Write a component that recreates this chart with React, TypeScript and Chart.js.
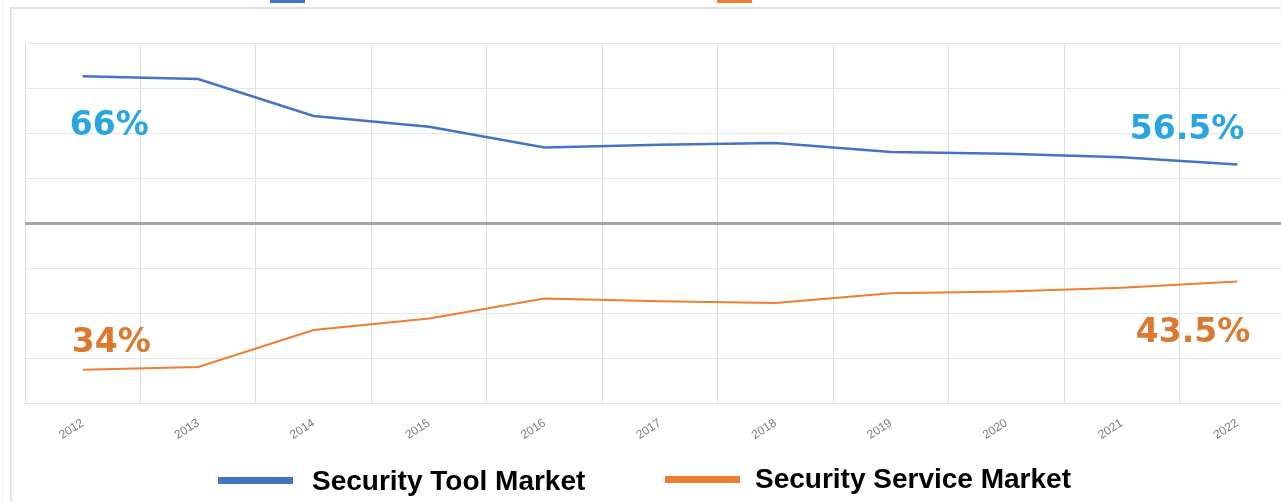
import React, { useEffect, useRef } from 'react';
import { Chart, registerables } from 'chart.js';

Chart.register(...registerables);

const years = ['2012', '2013', '2014', '2015', '2016', '2017', '2018', '2019', '2020', '2021', '2022'];
const toolMarket = [66.3, 66.0, 61.9, 60.7, 58.4, 58.7, 58.9, 57.9, 57.7, 57.3, 56.5];
const serviceMarket = [33.7, 34.0, 38.1, 39.4, 41.6, 41.3, 41.1, 42.2, 42.4, 42.8, 43.5];
const seriesNames = ['Security Tool Market', 'Security Service Market'];
const startLabels = ['66%', '34%'];
const endLabels = ['56.5%', '43.5%'];
const yMin = 30;
const yMax = 70;
const yStep = 5;
const midValue = 50;

const BLUE = '#4472c4';
const ORANGE = '#ed7d31';
const LABEL_BLUE = '#29a6df';
const LABEL_ORANGE = '#db7a2e';

const overlay = {
  id: 'overlay',
  beforeDraw(chart: any) {
    const ctx = chart.ctx;
    ctx.save();
    ctx.fillStyle = '#ffffff';
    ctx.fillRect(0, 0, chart.width, chart.height);
    // frame
    ctx.fillStyle = '#e0e0e0';
    ctx.fillRect(10, 7, chart.width, 2);
    ctx.fillRect(10, 8, 1.5, chart.height);
    ctx.fillStyle = '#f0f0f0';
    ctx.fillRect(2, 0, 1, chart.height);
    // cut-off top legend swatches
    ctx.fillStyle = BLUE;
    ctx.fillRect(270, 0, 35, 3);
    ctx.fillStyle = ORANGE;
    ctx.fillRect(717, 0, 35, 3);
    ctx.restore();
  },
  afterDraw(chart: any) {
    const ctx = chart.ctx;
    const xs = chart.scales.x;
    const ys = chart.scales.y;
    const last = years.length - 1;
    ctx.save();
    ctx.font = 'bold 33px "DejaVu Sans"';
    ctx.textBaseline = 'alphabetic';
    // start labels
    ctx.textAlign = 'left';
    ctx.fillStyle = LABEL_BLUE;
    ctx.fillText(startLabels[0], xs.getPixelForValue(0) - 13, ys.getPixelForValue(toolMarket[0]) + 59);
    ctx.fillStyle = LABEL_ORANGE;
    ctx.fillText(startLabels[1], xs.getPixelForValue(0) - 11, ys.getPixelForValue(serviceMarket[0]) - 18);
    // end labels
    ctx.textAlign = 'right';
    ctx.fillStyle = LABEL_BLUE;
    ctx.fillText(endLabels[0], xs.getPixelForValue(last) + 7, ys.getPixelForValue(toolMarket[last]) - 26);
    ctx.fillStyle = LABEL_ORANGE;
    ctx.fillText(endLabels[1], xs.getPixelForValue(last) + 13, ys.getPixelForValue(serviceMarket[last]) + 60);

    // bottom legend
    ctx.textAlign = 'left';
    ctx.font = 'bold 28px "Liberation Sans", Arial, sans-serif';
    ctx.fillStyle = BLUE;
    ctx.fillRect(218, 477, 75, 7);
    ctx.fillStyle = '#000000';
    ctx.fillText(seriesNames[0], 312, 490);
    ctx.fillStyle = ORANGE;
    ctx.fillRect(665, 476, 75, 7);
    ctx.fillStyle = '#000000';
    ctx.fillText(seriesNames[1], 755, 488);
    ctx.restore();
  },
};

export default function App() {
  const canvasRef = useRef<HTMLCanvasElement | null>(null);

  useEffect(() => {
    const canvas = canvasRef.current;
    if (!canvas) return;
    const chart = new Chart(canvas, {
      type: 'line',
      data: {
        labels: years,
        datasets: [
          {
            label: seriesNames[0],
            data: toolMarket,
            borderColor: BLUE,
            backgroundColor: BLUE,
            borderWidth: 2.5,
            pointRadius: 0,
            tension: 0,
          },
          {
            label: seriesNames[1],
            data: serviceMarket,
            borderColor: ORANGE,
            backgroundColor: ORANGE,
            borderWidth: 2,
            pointRadius: 0,
            tension: 0,
          },
        ],
      },
      options: {
        responsive: false,
        animation: false,
        devicePixelRatio: 1,
        layout: { padding: { left: 25, right: 15, top: 43, bottom: 0 } },
        plugins: {
          legend: { display: false },
          tooltip: { enabled: false },
        },
        scales: {
          x: {
            offset: true,
            grid: { offset: true, color: '#dedede', lineWidth: 1, drawTicks: false },
            border: { display: true, color: '#e0e0e0' },
            ticks: {
              minRotation: 33,
              maxRotation: 33,
              padding: 13,
              color: '#7c7c7c',
              font: { family: '"Liberation Sans", Arial, sans-serif', size: 12 },
            },
            afterFit: (s: any) => {
              s.height = 99;
            },
          },
          y: {
            min: yMin,
            max: yMax,
            ticks: { display: false, stepSize: yStep },
            grid: {
              drawTicks: false,
              color: (c: any) => (c.tick && c.tick.value === midValue ? '#a6a6a6' : '#e6e6e6'),
              lineWidth: (c: any) => (c.tick && c.tick.value === midValue ? 3 : 1),
            },
            border: { display: false },
            afterFit: (s: any) => {
              s.width = 0;
            },
          },
        },
      },
      plugins: [overlay],
    });
    return () => chart.destroy();
  }, []);

  return (
    <div
      style={{
        position: 'fixed',
        left: 0,
        top: 0,
        width: '100vw',
        height: '100vh',
        overflow: 'hidden',
        background: '#fff',
      }}
    >
      <canvas
        ref={canvasRef}
        width={1310}
        height={502}
        style={{ position: 'absolute', left: 0, top: 0, width: '1310px', height: '502px' }}
      />
    </div>
  );
}
